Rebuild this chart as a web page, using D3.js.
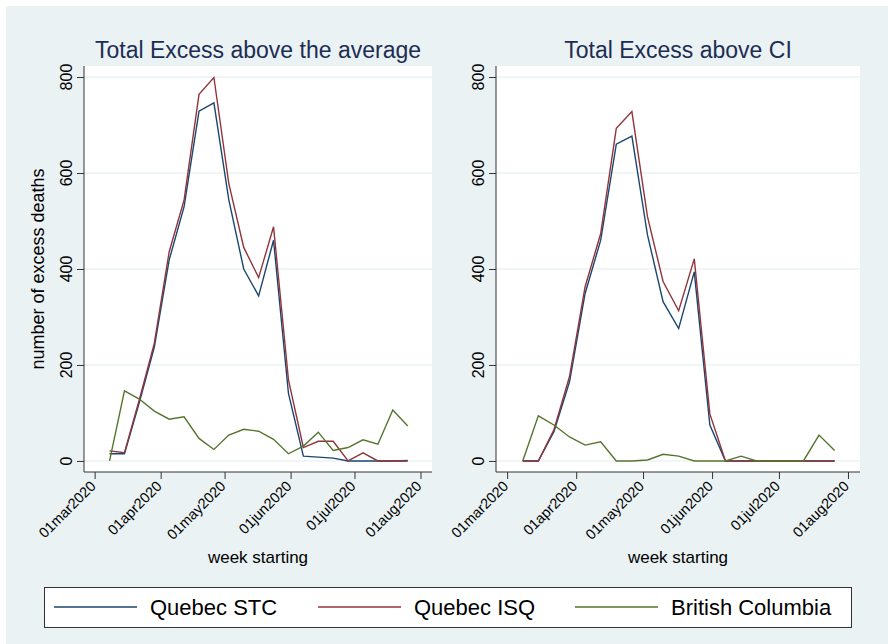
<!DOCTYPE html>
<html>
<head>
<meta charset="utf-8">
<script src="https://cdn.jsdelivr.net/npm/d3@7"></script>
<style>
  body { margin: 0; background: #fff; }
  svg { display: block; font-family: "Liberation Sans", Arial, Helvetica, sans-serif; }
</style>
</head>
<body>
<svg id="chart" width="888" height="644"></svg>
<script>
// week starting dates
const weeks = ["2020-03-08", "2020-03-15", "2020-03-22", "2020-03-29", "2020-04-05", "2020-04-12",
  "2020-04-19", "2020-04-26", "2020-05-03", "2020-05-10", "2020-05-17", "2020-05-24", "2020-05-31",
  "2020-06-07", "2020-06-14", "2020-06-21", "2020-06-28", "2020-07-05", "2020-07-12", "2020-07-19", "2020-07-26"];

// excess above the average
const stcAvg = [15, 15, 122, 237, 419, 530, 729, 746, 544, 400, 344, 460, 141, 10, 8, 6, 0, 0, 0, 0, 0];
const isqAvg = [21, 17, 128, 245, 436, 544, 764, 799, 578, 445, 382, 488, 169, 28, 41, 41, 0, 17, 0, 0, 1];
const bcAvg = [0, 146, 129, 104, 87, 92, 47, 24, 54, 66, 62, 45, 15, 31, 60, 22, 28, 44, 35, 106, 73];

// excess above CI
const stcCI = [0, 0, 61, 165, 349, 460, 660, 677, 471, 332, 276, 394, 75, 0, 0, 0, 0, 0, 0, 0, 0];
const isqCI = [0, 0, 65, 176, 363, 474, 693, 728, 509, 374, 313, 421, 98, 0, 0, 0, 0, 0, 0, 0, 0];
const bcCI = [0, 94, 75, 50, 33, 40, 0, 0, 2, 14, 10, 0, 0, 0, 10, 0, 0, 0, 0, 54, 22];

const monthTicks = ["2020-03-01", "2020-04-01", "2020-05-01", "2020-06-01", "2020-07-01", "2020-08-01"];
const yTicks = [0, 200, 400, 600, 800];

const seriesNames = ["Quebec STC", "Quebec ISQ", "British Columbia"];
const seriesColors = ["#1a476f", "#90353b", "#55752f"];

const panelTitles = ["Total Excess above the average", "Total Excess above CI"];

const parse = d3.utcParse("%Y-%m-%d");
const fmt = d3.utcFormat("%d%b%Y");
const dates = weeks.map(parse);

const svg = d3.select("#chart");

// stata style background
svg.append("rect").attr("x", 6).attr("y", 6).attr("width", 882).attr("height", 638).attr("fill", "#eaf2f3");

const plotTop = 66, plotBottom = 472;
const y = d3.scaleLinear().domain([-23, 823]).range([plotBottom, plotTop]);

const panels = [
  { left: 84, right: 432, title: panelTitles[0], data: [stcAvg, isqAvg, bcAvg], ytitle: true },
  { left: 496, right: 860, title: panelTitles[1], data: [stcCI, isqCI, bcCI], ytitle: false }
];

const xStart = d3.utcDay.offset(parse("2020-03-01"), -5);
const xEnd = new Date(parse("2020-08-01").getTime() + 5.4 * 86400000);

panels.forEach((p) => {
  const x = d3.scaleUtc().domain([xStart, xEnd]).range([p.left, p.right]);
  const g = svg.append("g");

  // plot region
  g.append("rect")
    .attr("x", p.left).attr("y", plotTop)
    .attr("width", p.right - p.left).attr("height", plotBottom - plotTop)
    .attr("fill", "#fff");

  // gridlines
  g.selectAll(".grid")
    .data(yTicks)
    .enter()
    .append("line")
    .attr("x1", p.left).attr("x2", p.right)
    .attr("y1", (d) => y(d)).attr("y2", (d) => y(d))
    .attr("stroke", "#e3eced")
    .attr("stroke-width", 1);

  // lines
  const line = d3.line().x((d, i) => x(dates[i])).y((d) => y(d));
  p.data.forEach((vals, k) => {
    g.append("path")
      .datum(vals)
      .attr("d", line)
      .attr("fill", "none")
      .attr("stroke", seriesColors[k])
      .attr("stroke-width", 1.4)
      .attr("stroke-linejoin", "miter");
  });

  // y axis
  const yAxis = g.append("g")
    .attr("transform", `translate(${p.left},0)`)
    .call(d3.axisLeft(y).tickValues(yTicks).tickSize(7).tickFormat(""));
  yAxis.select(".domain").attr("d", `M0,${plotTop}V${plotBottom}`).attr("stroke", "#333");
  yAxis.selectAll(".tick line").attr("stroke", "#333");

  g.selectAll(".ylab")
    .data(yTicks)
    .enter()
    .append("text")
    .attr("transform", (d) => `translate(${p.left - 12},${y(d)}) rotate(-90)`)
    .attr("text-anchor", "middle")
    .attr("font-size", 16)
    .attr("fill", "#000")
    .text((d) => d);

  // x axis
  const ticks = monthTicks.map(parse);
  const xAxis = g.append("g")
    .attr("transform", `translate(0,${plotBottom})`)
    .call(d3.axisBottom(x).tickValues(ticks).tickSize(7).tickFormat(""));
  xAxis.select(".domain").attr("d", `M${p.left},0H${p.right}`).attr("stroke", "#333");
  xAxis.selectAll(".tick line").attr("stroke", "#333");

  g.selectAll(".xlab")
    .data(ticks)
    .enter()
    .append("text")
    .attr("transform", (d) => `translate(${x(d) + 2},${plotBottom + 15}) rotate(-45)`)
    .attr("text-anchor", "end")
    .attr("font-size", 14.5)
    .attr("fill", "#000")
    .text((d) => fmt(d).toLowerCase());

  // titles
  g.append("text")
    .attr("x", (p.left + p.right) / 2).attr("y", 58)
    .attr("text-anchor", "middle")
    .attr("font-size", 23)
    .attr("fill", "#1c2d54")
    .text(p.title);

  g.append("text")
    .attr("x", (p.left + p.right) / 2).attr("y", 563)
    .attr("text-anchor", "middle")
    .attr("font-size", 17)
    .attr("fill", "#000")
    .text("week starting");

  if (p.ytitle) {
    g.append("text")
      .attr("transform", `translate(44,${(plotTop + plotBottom) / 2}) rotate(-90)`)
      .attr("text-anchor", "middle")
      .attr("font-size", 18)
      .attr("fill", "#000")
      .text("number of excess deaths");
  }
});

// legend
const legend = svg.append("g");
legend.append("rect")
  .attr("x", 44.5).attr("y", 587.5).attr("width", 807).attr("height", 40)
  .attr("fill", "#fff").attr("stroke", "#333").attr("stroke-width", 1);

const legendX = [54, 318, 575];
seriesNames.forEach((name, k) => {
  legend.append("line")
    .attr("x1", legendX[k]).attr("x2", legendX[k] + 83)
    .attr("y1", 607).attr("y2", 607)
    .attr("stroke", seriesColors[k]).attr("stroke-width", 1.5);
  legend.append("text")
    .attr("x", legendX[k] + 96).attr("y", 615)
    .attr("font-size", 22)
    .attr("fill", "#000")
    .text(name);
});
</script>
</body>
</html>
